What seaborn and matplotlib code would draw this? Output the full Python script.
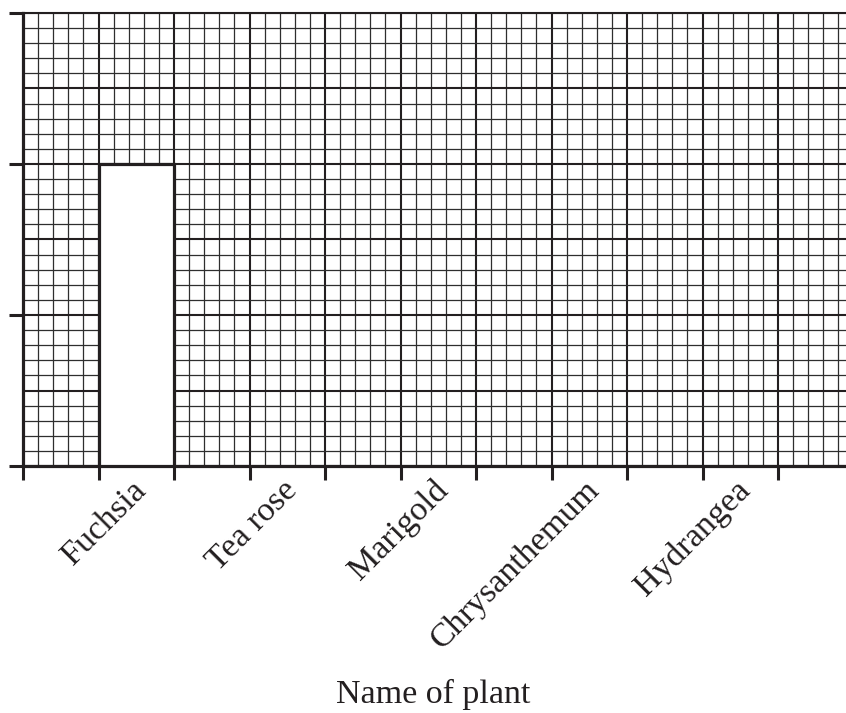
# Import Libraries
import numpy as np
import pandas as pd
import seaborn as sns
import matplotlib.pyplot as plt
import matplotlib.transforms as mtransforms
from matplotlib.ticker import MultipleLocator

# Data: bar chart on graph paper, only the first bar is filled in
plants = ['Fuchsia', 'Tea rose', 'Marigold', 'Chrysanthemum', 'Hydrangea']
slot_centres = [1.5, 3.5, 5.5, 7.5, 9.5]
counts = [20, np.nan, np.nan, np.nan, np.nan]
x_label = 'Name of plant'

INK = '#231f20'

df = pd.DataFrame({'slot': slot_centres, 'count': counts, 'plant': plants})

sns.set_theme(style = 'white')
plt.rcParams['font.family'] = ['Liberation Serif', 'DejaVu Serif']

fig = plt.figure(figsize = (8.46, 7.13), dpi = 100)
ax = fig.add_axes([23 / 846, 247 / 713, 11 * 75.5 / 846, 453 / 713])

sns.barplot(
    data = df,
    x = 'slot',
    y = 'count',
    native_scale = True,
    width = 0.5,
    color = 'white',
    edgecolor = INK,
    linewidth = 2.3,
    saturation = 1,
    ax = ax,
    zorder = 3
)

ax.set_xlim(0, 11)
ax.set_ylim(0, 30)

# graph paper grid
ax.xaxis.set_major_locator(MultipleLocator(1))
ax.xaxis.set_minor_locator(MultipleLocator(0.2))
ax.yaxis.set_major_locator(MultipleLocator(5))
ax.yaxis.set_minor_locator(MultipleLocator(1))
ax.grid(which = 'major', color = INK, linewidth = 1.5, zorder = 1)
ax.grid(which = 'minor', color = '#2e2e2e', linewidth = 0.9, zorder = 0)
ax.set_axisbelow(True)

ax.tick_params(axis = 'both', which = 'major', length = 10, width = 2.2,
               color = INK, labelbottom = False, labelleft = False)
ax.tick_params(axis = 'both', which = 'minor', length = 0)
ax.tick_params(axis = 'x', direction = 'out', bottom = True)
ax.tick_params(axis = 'y', direction = 'out', left = True)
# y tick marks only every second major line
for value, tick in zip(ax.get_yticks(), ax.yaxis.get_major_ticks()):
    if round(value) % 10 != 0:
        tick.tick1line.set_visible(False)

for side in ['left', 'bottom']:
    ax.spines[side].set_linewidth(2.3)
    ax.spines[side].set_color(INK)
ax.spines['top'].set_linewidth(1.5)
ax.spines['top'].set_color(INK)
ax.spines['right'].set_visible(False)

# category names sit between the tick marks
offset = mtransforms.ScaledTranslation(4 / 72, -14 / 72, fig.dpi_scale_trans)
trans = mtransforms.blended_transform_factory(ax.transData, ax.transAxes) + offset
for pos, name in zip(slot_centres, plants):
    ax.text(pos, 0, name, transform = trans, rotation = 45, rotation_mode = 'anchor',
            ha = 'right', va = 'center', fontsize = 24.5, color = INK)

ax.set_xlabel(x_label, fontsize = 24.5, color = INK)
ax.xaxis.set_label_coords(410 / 830.5, -213 / 453)
ax.set_ylabel('')

fig.savefig('out.png', dpi = 100)
